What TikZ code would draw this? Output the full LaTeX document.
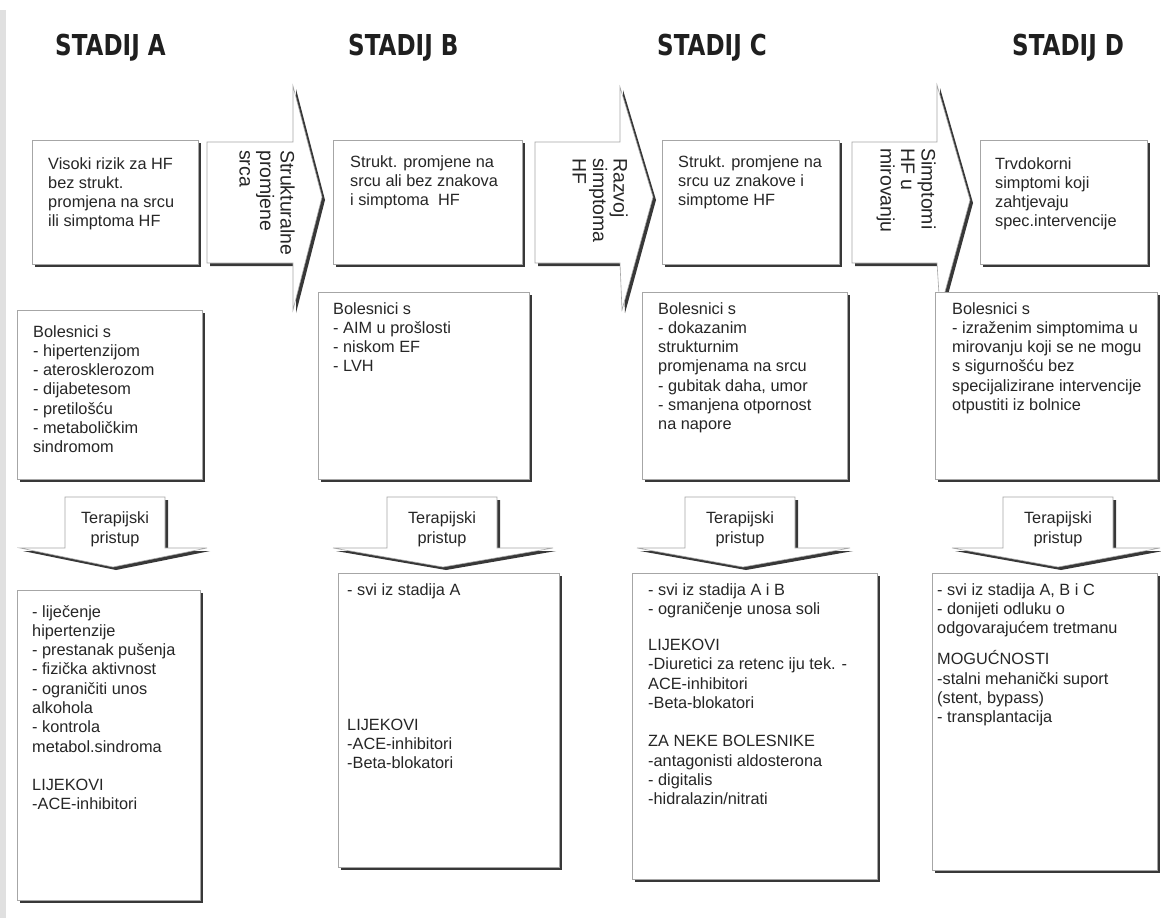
\documentclass[tikz,border=0pt]{standalone}
\usepackage{fontspec}
\setmainfont{Liberation Sans}
\newfontfamily\headfont{DejaVu Sans}
\usetikzlibrary{shadows}
\begin{document}
\begin{tikzpicture}[x=1pt,y=-1pt,
  shd/.style={drop shadow={shadow xshift=3pt,shadow yshift=-3pt,opacity=1,fill=black!78}},
  boxc/.style={fill=white,draw=black!35,line width=0.6pt},
  bx/.style={boxc,shd,rectangle,inner sep=0pt,outer sep=0pt,anchor=north west},
  txt/.style={anchor=north west,inner sep=0pt,align=left,font=\fontsize{16.3}{19.3}\selectfont,text=black!85},
  vtxt/.style={anchor=north west,inner sep=0pt,align=left,rotate=-90,font=\fontsize{19.5}{20.5}\selectfont,text=black!85},
  ther/.style={anchor=north,inner sep=0pt,align=center,font=\fontsize{16.3}{20}\selectfont,text=black!85},
  headtxt/.style={anchor=base west,inner sep=0pt,text=black!88},
]
\useasboundingbox (0,0) rectangle (1161,918);
\fill[white] (0,0) rectangle (1161,918);
\fill[black!12] (0,10) rectangle (6,918);

% headings
\node[headtxt] (hA) at (55,55) {\scalebox{0.8}[1]{\fontsize{28.8}{30}\headfont\bfseries STADIJ A}};
\node[headtxt] (hB) at (348,55) {\scalebox{0.8}[1]{\fontsize{28.8}{30}\headfont\bfseries STADIJ B}};
\node[headtxt] (hC) at (657,55) {\scalebox{0.8}[1]{\fontsize{28.8}{30}\headfont\bfseries STADIJ C}};
\node[headtxt] (hD) at (1012,55) {\scalebox{0.8}[1]{\fontsize{28.8}{30}\headfont\bfseries STADIJ D}};

% transition arrows
\filldraw[boxc,shd] (207,142) -- (293,142) -- (293,86) -- (322,197) -- (293,310) -- (293,263) -- (207,263) -- cycle;
\filldraw[boxc,shd] (535,142) -- (620,142) -- (620,87) -- (653,197) -- (622,310) -- (620,263) -- (535,263) -- cycle;
\filldraw[boxc,shd] (852,142) -- (937,142) -- (937,85) -- (970,200) -- (940,310) -- (937,263) -- (852,263) -- cycle;
\node[vtxt] (r1) at (295,150) {Strukturalne\\promjene\\srca};
\node[vtxt] (r2) at (628,158) {Razvoj\\simptoma\\HF};
\node[vtxt] (r3) at (936,148) {Simptomi\\HF u\\mirovanju};

% row 1
\node[bx,minimum width=166pt,minimum height=124pt] (a1) at (32,140) {};
\node[bx,minimum width=189pt,minimum height=124pt] (b1) at (333,140) {};
\node[bx,minimum width=177pt,minimum height=124pt] (c1) at (662,140) {};
\node[bx,minimum width=167pt,minimum height=124pt] (d1) at (980,140) {};
\node[txt] (ta1) at (48,157) {Visoki rizik za HF\\bez strukt.\\promjena na srcu\\ili simptoma HF};
\node[txt] (tb1) at (350,155) {Strukt. promjene na\\srcu ali bez znakova\\i simptoma\ \ HF};
\node[txt] (tc1) at (678,155) {Strukt. promjene na\\srcu uz znakove i\\simptome HF};
\node[txt] (td1) at (995,157) {Trvdokorni\\simptomi koji\\zahtjevaju\\spec.intervencije};

% row 2
\node[bx,minimum width=185pt,minimum height=169pt] (a2) at (17,310) {};
\node[bx,minimum width=211pt,minimum height=187pt] (b2) at (318,292) {};
\node[bx,minimum width=205pt,minimum height=187pt] (c2) at (642,292) {};
\node[bx,minimum width=222pt,minimum height=187pt] (d2) at (935,292) {};
\node[txt] (ta2) at (33,325) {Bolesnici s\\- hipertenzijom\\- aterosklerozom\\- dijabetesom\\- pretilošću\\- metaboličkim\\sindromom};
\node[txt] (tb2) at (333,302) {Bolesnici s\\- AIM u prošlosti\\- niskom EF\\- LVH};
\node[txt] (tc2) at (658,302) {Bolesnici s\\- dokazanim\\strukturnim\\promjenama na srcu\\- gubitak daha, umor\\- smanjena otpornost\\na napore};
\node[txt] (td2) at (952,302) {Bolesnici s\\- izraženim simptomima u\\mirovanju koji se ne mogu\\s sigurnošću bez\\specijalizirane intervencije\\otpustiti iz bolnice};

% therapy arrows
\filldraw[boxc,shd] (65,497) -- (165,497) -- (165,548) -- (207,548) -- (113,567) -- (20,548) -- (65,548) -- cycle;
\filldraw[boxc,shd] (387,497) -- (497,497) -- (497,548) -- (553,548) -- (443,567) -- (333,548) -- (387,548) -- cycle;
\filldraw[boxc,shd] (685,497) -- (795,497) -- (795,548) -- (850,548) -- (743,567) -- (637,548) -- (685,548) -- cycle;
\filldraw[boxc,shd] (1003,497) -- (1113,497) -- (1113,548) -- (1160,548) -- (1058,567) -- (952,548) -- (1003,548) -- cycle;
\node[ther] (pa) at (115,511) {Terapijski\\pristup};
\node[ther] (pb) at (442,511) {Terapijski\\pristup};
\node[ther] (pc) at (740,511) {Terapijski\\pristup};
\node[ther] (pd) at (1058,511) {Terapijski\\pristup};

% row 3
\node[bx,minimum width=183pt,minimum height=310pt] (a3) at (17,590) {};
\node[bx,minimum width=221pt,minimum height=294pt] (b3) at (338,573) {};
\node[bx,minimum width=245pt,minimum height=306pt] (c3) at (632,573) {};
\node[bx,minimum width=225pt,minimum height=297pt] (d3) at (932,573) {};
\node[txt] (ta3) at (32,605) {- liječenje\\hipertenzije\\- prestanak pušenja\\- fizička aktivnost\\- ograničiti unos\\alkohola\\- kontrola\\metabol.sindroma\\[19pt]LIJEKOVI\\-ACE-inhibitori};
\node[txt] (tb3) at (347,583) {- svi iz stadija A\\[115.7pt]LIJEKOVI\\-ACE-inhibitori\\-Beta-blokatori};
\node[txt] (tc3) at (648,583) {- svi iz stadija A i B\\- ograničenje unosa soli\\[17pt]LIJEKOVI\\-Diuretici za retenc iju tek. -\\ACE-inhibitori\\-Beta-blokatori\\[19pt]ZA NEKE BOLESNIKE\\-antagonisti aldosterona\\- digitalis\\-hidralazin/nitrati};
\node[txt] (td3) at (937,583) {- svi iz stadija A, B i C\\- donijeti odluku o\\odgovarajućem tretmanu\\[12pt]MOGUĆNOSTI\\-stalni mehanički suport\\(stent, bypass)\\- transplantacija};
\end{tikzpicture}
\end{document}
